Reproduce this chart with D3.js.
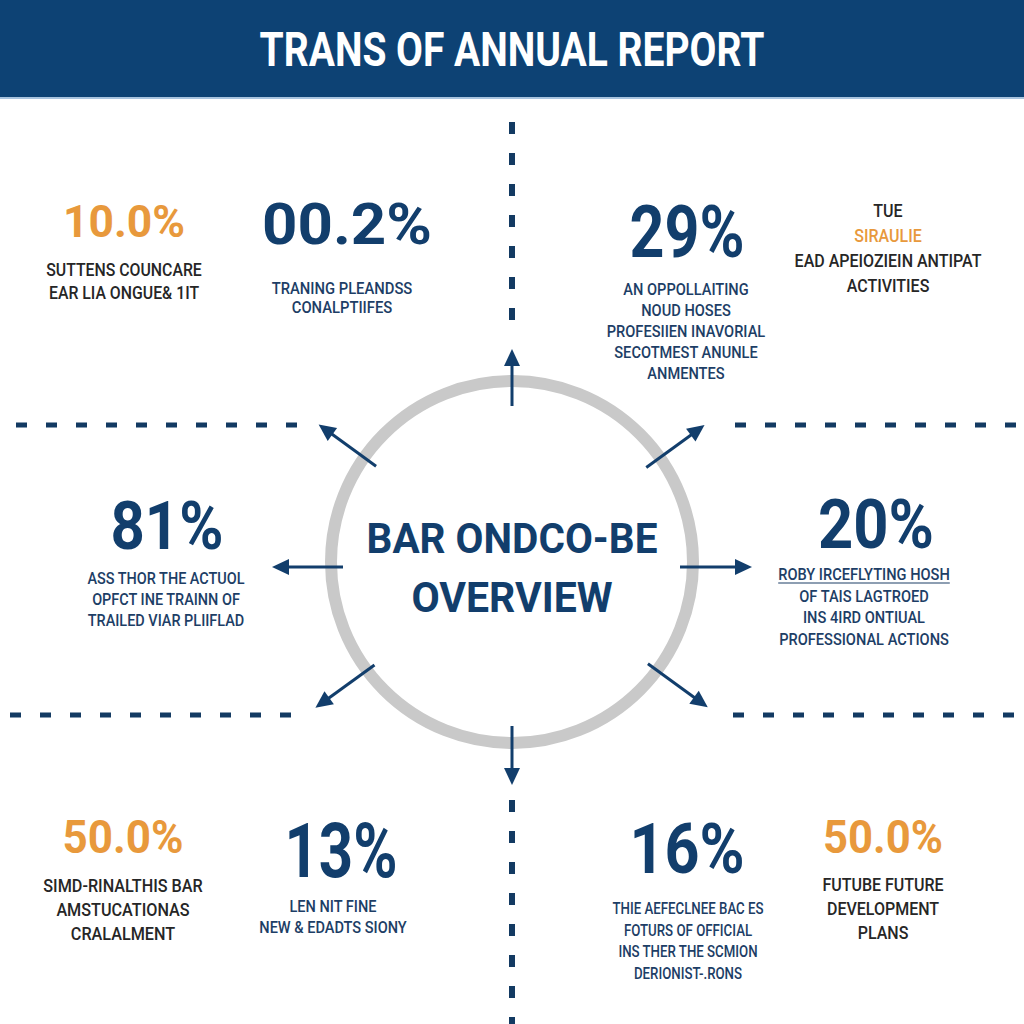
<!DOCTYPE html>
<html>
<head>
<meta charset="utf-8">
<script src="https://cdn.jsdelivr.net/npm/d3@7"></script>
<style>
html,body{margin:0;padding:0;background:#fff;}
svg{display:block;}
</style>
</head>
<body>
<svg id="chart" width="1024" height="1024"></svg>
<script>
// ---------- data ----------
const title = "TRANS OF ANNUAL REPORT";
const centerLines = ["BAR ONDCO-BE", "OVERVIEW"];
const statNumbers = ["10.0%", "00.2%", "29%", "", "81%", "20%", "50.0%", "13%", "16%", "50.0%"];
const numberTones = ["accent", "primary", "primary", "", "primary", "primary", "accent", "primary", "primary", "accent"];
const statLabels = [
  ["SUTTENS COUNCARE", "EAR LIA ONGUE& 1IT"],
  ["TRANING PLEANDSS", "CONALPTIIFES"],
  ["AN OPPOLLAITING", "NOUD HOSES", "PROFESIIEN INAVORIAL", "SECOTMEST ANUNLE", "ANMENTES"],
  ["TUE", "SIRAULIE", "EAD APEIOZIEIN ANTIPAT", "ACTIVITIES"],
  ["ASS THOR THE ACTUOL", "OPFCT INE TRAINN OF", "TRAILED VIAR PLIIFLAD"],
  ["ROBY IRCEFLYTING HOSH", "OF TAIS LAGTROED", "INS 4IRD ONTIUAL", "PROFESSIONAL ACTIONS"],
  ["SIMD-RINALTHIS BAR", "AMSTUCATIONAS", "CRALALMENT"],
  ["LEN NIT FINE", "NEW & EDADTS SIONY"],
  ["THIE AEFECLNEE BAC ES", "FOTURS OF OFFICIAL", "INS THER THE SCMION", "DERIONIST-.RONS"],
  ["FUTUBE FUTURE", "DEVELOPMENT", "PLANS"]
];
const labelTones = ["ink", "primary", "primary", "ink", "primary", "primary", "ink", "primary", "primary", "ink"];
const highlightLine = [-1, -1, -1, 1, -1, -1, -1, -1, -1, -1];
const underlineLine = [-1, -1, -1, -1, -1, 0, -1, -1, -1, -1];
const arrowAngles = [-90, -36, 0, 36, 90, 144, 180, 216];

// ---------- layout (positions / sizes) ----------
const layout = [
  {nx:124, nb:237, nh:32, nw:122, lx:124, lb:276, ls:23,   lsz:18, lsx:0.88},
  {nx:347, nb:244, nh:41, nw:170, lx:342, lb:294, ls:19,   lsz:17, lsx:0.87},
  {nx:687, nb:257, nh:51, nw:115, lx:686, lb:295, ls:21,   lsz:17, lsx:0.86},
  {nx:0,   nb:0,   nh:0,  nw:0,   lx:888, lb:217, ls:25,   lsz:18, lsx:0.89},
  {nx:167, nb:549, nh:48, nw:113, lx:166, lb:584, ls:21,   lsz:17, lsx:0.85},
  {nx:876, nb:548, nh:49, nw:116, lx:864, lb:580, ls:21.5, lsz:17, lsx:0.86},
  {nx:123, nb:853, nh:33, nw:121, lx:123, lb:892, ls:24,   lsz:18, lsx:0.90},
  {nx:341, nb:877, nh:54, nw:113, lx:333, lb:912, ls:21,   lsz:16, lsx:0.91},
  {nx:687, nb:873, nh:50, nw:115, lx:688, lb:914, ls:21.7, lsz:17, lsx:0.78},
  {nx:883, nb:853, nh:33, nw:120, lx:883, lb:891, ls:24,   lsz:18, lsx:0.89}
];
const colors = {
  header: "#0d4274", primary: "#123e6c", label: "#1d3e66", ink: "#262626",
  accent: "#e8993c", ring: "#c9c9c9", dash: "#133a62"
};
const FONT = "Roboto, 'Noto Sans', 'DejaVu Sans', sans-serif";

const svg = d3.select("#chart");

// ---------- header ----------
svg.append("rect").attr("x", 0).attr("y", 0).attr("width", 1024).attr("height", 98).attr("fill", colors.header);
svg.append("rect").attr("x", 0).attr("y", 97).attr("width", 1024).attr("height", 2).attr("fill", "#a8c4df");

function addText(parent, x, y, str, size, weight, fill, sx, targetW) {
  const g = parent.append("g");
  const t = g.append("text")
    .attr("text-anchor", "middle")
    .attr("font-family", FONT)
    .attr("font-size", size)
    .attr("font-weight", weight)
    .attr("fill", fill)
    .text(str);
  let s = sx;
  if (targetW) {
    const len = t.node().getComputedTextLength();
    if (len > 0) s = targetW / len;
  }
  g.attr("transform", `translate(${x},${y}) scale(${s},1)`);
  return {g, t, s};
}

addText(svg, 512, 66, title, 48, 700, "#ffffff", 1, 505);

// ---------- dashed guide lines ----------
const dashG = svg.append("g").attr("stroke", colors.dash).attr("fill", "none");
const hDash = [
  {x1: 16, x2: 300, y: 425}, {x1: 735, x2: 1022, y: 425},
  {x1: 10, x2: 294, y: 715}, {x1: 733, x2: 1022, y: 715}
];
dashG.selectAll("line.h").data(hDash).join("line")
  .attr("class", "h")
  .attr("x1", d => d.x1).attr("x2", d => d.x2)
  .attr("y1", d => d.y).attr("y2", d => d.y)
  .attr("stroke-width", 5).attr("stroke-dasharray", "11 19");
const vDash = [{y1: 122, y2: 324}, {y1: 800, y2: 1030}];
dashG.selectAll("line.v").data(vDash).join("line")
  .attr("class", "v")
  .attr("x1", 512).attr("x2", 512)
  .attr("y1", d => d.y1).attr("y2", d => d.y2)
  .attr("stroke-width", 6).attr("stroke-dasharray", "12 19");

// ---------- central ring ----------
const cx = 512, cy = 562;
svg.append("circle").attr("cx", cx).attr("cy", cy).attr("r", 181)
  .attr("fill", "none").attr("stroke", colors.ring).attr("stroke-width", 12);

// ---------- arrows ----------
const rTail = d3.scaleOrdinal().domain(arrowAngles).range([159, 166, 168, 168, 161, 170, 169, 168]);
const rTip = d3.scaleOrdinal().domain(arrowAngles).range([216, 238, 240, 242, 220, 243, 240, 239]);
const acy = 565;
const arrowG = svg.append("g");
arrowAngles.forEach(a => {
  const rad = a * Math.PI / 180;
  const ux = Math.cos(rad), uy = Math.sin(rad);
  const ty = (a === 0 || a === 180) ? 567 : acy;
  const x1 = cx + ux * rTail(a), y1 = ty + uy * rTail(a);
  const x2 = cx + ux * rTip(a), y2 = ty + uy * rTip(a);
  const head = 17, half = 8;
  const bx = x2 - ux * head, by = y2 - uy * head;
  arrowG.append("line")
    .attr("x1", x1).attr("y1", y1).attr("x2", bx + ux * 2).attr("y2", by + uy * 2)
    .attr("stroke", colors.primary).attr("stroke-width", 3);
  const px = -uy, py = ux;
  arrowG.append("path")
    .attr("d", `M${x2},${y2}L${bx + px * half},${by + py * half}L${bx - px * half},${by - py * half}Z`)
    .attr("fill", colors.primary);
});

// ---------- center title ----------
addText(svg, 512, 553, centerLines[0], 43, 700, colors.primary, 1, 291);
addText(svg, 512, 612, centerLines[1], 43, 700, colors.primary, 1, 201);

// ---------- stat blocks ----------
const blockG = svg.append("g");
statNumbers.forEach((num, i) => {
  const L = layout[i];
  if (num) {
    const fill = numberTones[i] === "accent" ? colors.accent : colors.primary;
    addText(blockG, L.nx, L.nb, num, L.nh / 0.711, 700, fill, 1, L.nw);
  }
  statLabels[i].forEach((line, j) => {
    let fill = labelTones[i] === "ink" ? colors.ink : colors.label;
    if (highlightLine[i] === j) fill = colors.accent;
    const y = L.lb + j * L.ls;
    const r = addText(blockG, L.lx, y, line, L.lsz, 500, fill, L.lsx);
    if (underlineLine[i] === j) {
      const w = r.t.node().getComputedTextLength() * r.s;
      blockG.append("line")
        .attr("x1", L.lx - w / 2).attr("x2", L.lx + w / 2)
        .attr("y1", y + 3).attr("y2", y + 3)
        .attr("stroke", fill).attr("stroke-width", 1.2);
    }
  });
});
</script>
</body>
</html>
